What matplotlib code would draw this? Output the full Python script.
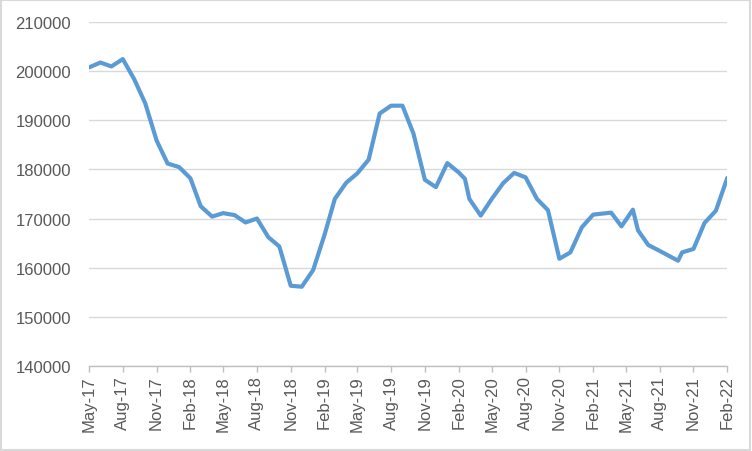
import matplotlib
matplotlib.use('Agg')
import matplotlib.pyplot as plt
import matplotlib.dates as mdates
import pandas as pd

# values (a few points fall mid-month)
dates = ['2017-05-01', '2017-06-01', '2017-07-01', '2017-08-01', '2017-09-01',
         '2017-10-01', '2017-11-01', '2017-12-01', '2018-01-01', '2018-02-01',
         '2018-03-01', '2018-04-01', '2018-05-01', '2018-06-01', '2018-07-01',
         '2018-08-01', '2018-09-01', '2018-10-01', '2018-11-01', '2018-12-01',
         '2019-01-01', '2019-02-01', '2019-03-01', '2019-04-01', '2019-05-01',
         '2019-06-01', '2019-07-01', '2019-08-01', '2019-09-01', '2019-10-01',
         '2019-11-01', '2019-12-01', '2020-01-01', '2020-02-01', '2020-02-18',
         '2020-03-01', '2020-04-01', '2020-05-01', '2020-06-01', '2020-07-01',
         '2020-08-01', '2020-09-01', '2020-10-01', '2020-11-01', '2020-12-01',
         '2021-01-01', '2021-02-01', '2021-03-22', '2021-04-19', '2021-05-20',
         '2021-06-03', '2021-07-01', '2021-08-01', '2021-09-20', '2021-10-01',
         '2021-11-01', '2021-12-01', '2022-01-01', '2022-02-01']
values = [200800, 201800, 201000, 202500, 198400,
          193500, 185900, 181200, 180500, 178200,
          172500, 170400, 171100, 170700, 169200,
          170000, 166200, 164300, 156300, 156100,
          159500, 166700, 174000, 177300, 179200,
          182000, 191400, 193000, 193000, 187300,
          177900, 176400, 181300, 179400, 178100,
          174000, 170600, 174000, 177200, 179300,
          178400, 174000, 171700, 161800, 163100,
          168200, 170800, 171200, 168400, 171800,
          167600, 164600, 163400, 161400, 163100,
          163800, 169100, 171600, 178300]
y_ticks = [140000, 150000, 160000, 170000, 180000, 190000, 200000, 210000]

x = pd.to_datetime(dates)

plt.rcParams['font.family'] = ['Liberation Sans', 'DejaVu Sans']

fig = plt.figure(figsize=(7.52, 4.52), dpi=100)
ax = fig.add_axes([89 / 752, 1 - 366.7 / 452, (727.3 - 89) / 752, (366.7 - 23.3) / 452])

ax.plot(x, values, color='#5B9BD5', linewidth=3.0, solid_joinstyle='round',
        solid_capstyle='round', zorder=3)

ax.set_xlim(pd.Timestamp('2017-05-01'), pd.Timestamp('2022-02-01'))
ax.set_ylim(140000, 210000)
ax.set_yticks(y_ticks)
ax.yaxis.grid(True, color='#D9D9D9', linewidth=1.0)
ax.set_axisbelow(True)

ax.xaxis.set_major_locator(mdates.MonthLocator(bymonth=[2, 5, 8, 11]))
ax.xaxis.set_major_formatter(mdates.DateFormatter('%b-%y'))

for s in ['top', 'right', 'left']:
    ax.spines[s].set_visible(False)
ax.spines['bottom'].set_color('#BFBFBF')
ax.spines['bottom'].set_linewidth(1.0)

ax.tick_params(axis='y', length=0, pad=13, labelsize=12, labelcolor='#595959')
ax.tick_params(axis='x', length=4, width=1.0, color='#BFBFBF', pad=3,
               labelsize=12, labelcolor='#595959', labelrotation=90)

# light chart border
fig.patches.append(plt.Rectangle((0.001, 0.002), 0.997, 0.995, transform=fig.transFigure,
                                 fill=False, edgecolor='#D9D9D9', linewidth=1.5))

fig.savefig('out.png', dpi=100)
